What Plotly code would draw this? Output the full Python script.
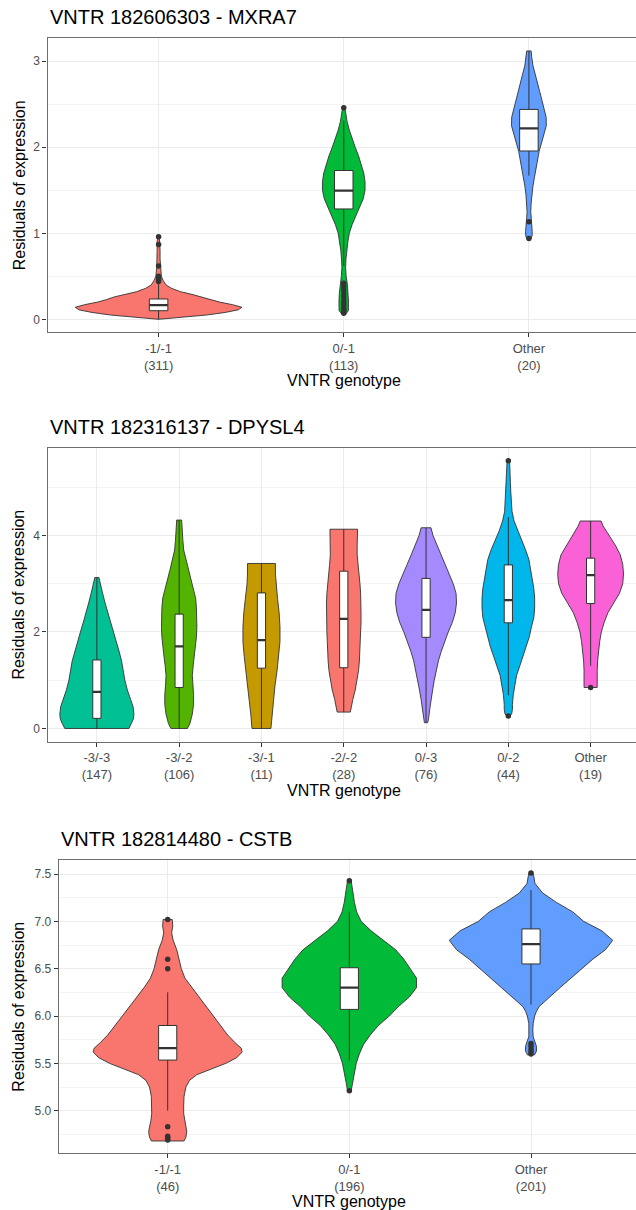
import numpy as np
import plotly.graph_objects as go

W, H = 636, 1210
FONT = "Liberation Sans, Arial, sans-serif"

# ---------------- Panel 1 : VNTR 182606303 - MXRA7 ----------------
P1_TITLE = "VNTR 182606303 - MXRA7"
P1_CATS = ["-1/-1", "0/-1", "Other"]
P1_N = [311, 113, 20]
P1_COLORS = ["#F8766D", "#00BA38", "#619CFF"]
P1_Q1 = [0.100, 1.283, 1.957]
P1_MED = [0.166, 1.495, 2.220]
P1_Q3 = [0.236, 1.730, 2.440]
P1_LOW = [0.0, 0.62, 1.67]
P1_HIGH = [0.42, 2.31, 3.12]
P1_OUT = [[0.44, 0.46, 0.48, 0.50, 0.62, 0.87, 0.96],
          [0.07, 0.09, 0.11, 0.13, 0.16, 0.19, 0.22, 0.26, 0.30, 0.34, 0.38, 0.42, 2.46],
          [0.94, 1.135]]
P1_VY = [[0.0, 0.02, 0.05, 0.08, 0.11, 0.14, 0.17, 0.20, 0.23, 0.26, 0.29, 0.32, 0.36, 0.40, 0.45, 0.50, 0.6, 0.7, 0.8, 0.9, 0.96],
         [0.06, 0.1, 0.2, 0.3, 0.4, 0.5, 0.6, 0.7, 0.8, 0.9, 1.0, 1.1, 1.2, 1.3, 1.4, 1.5, 1.6, 1.7, 1.8, 1.9, 2.0, 2.1, 2.2, 2.3, 2.4, 2.46],
         [0.94, 0.97, 1.02, 1.1, 1.18, 1.25, 1.35, 1.45, 1.55, 1.65, 1.75, 1.85, 1.95, 2.05, 2.15, 2.25, 2.35, 2.45, 2.55, 2.65, 2.75, 2.85, 2.95, 3.05, 3.12]]
P1_VW = [[0.0, 0.12, 0.26, 0.36, 0.43, 0.45, 0.40, 0.33, 0.28, 0.24, 0.18, 0.12, 0.07, 0.04, 0.025, 0.015, 0.01, 0.008, 0.008, 0.008, 0.004],
         [0.01, 0.025, 0.026, 0.024, 0.02, 0.013, 0.01, 0.012, 0.016, 0.022, 0.03, 0.045, 0.065, 0.085, 0.105, 0.115, 0.115, 0.108, 0.095, 0.08, 0.062, 0.045, 0.03, 0.018, 0.01, 0.006],
         [0.012, 0.017, 0.018, 0.016, 0.012, 0.01, 0.012, 0.016, 0.022, 0.03, 0.038, 0.046, 0.055, 0.068, 0.083, 0.094, 0.093, 0.083, 0.07, 0.058, 0.046, 0.034, 0.022, 0.015, 0.012]]

# ---------------- Panel 2 : VNTR 182316137 - DPYSL4 ----------------
P2_TITLE = "VNTR 182316137 - DPYSL4"
P2_CATS = ["-3/-3", "-3/-2", "-3/-1", "-2/-2", "0/-3", "0/-2", "Other"]
P2_N = [147, 106, 11, 28, 76, 44, 19]
P2_COLORS = ["#00C094", "#53B400", "#C49A00", "#F8766D", "#A58AFF", "#00B6EB", "#FB61D7"]
P2_Q1 = [0.21, 0.85, 1.25, 1.26, 1.89, 2.19, 2.59]
P2_MED = [0.76, 1.70, 1.83, 2.27, 2.46, 2.66, 3.18]
P2_Q3 = [1.42, 2.37, 2.81, 3.26, 3.11, 3.39, 3.53]
P2_LOW = [0.0, 0.0, 0.0, 0.34, 0.12, 0.69, 1.30]
P2_HIGH = [3.13, 4.32, 3.42, 4.13, 4.16, 4.38, 4.30]
P2_OUT = [[], [], [], [], [], [0.26, 5.55], [0.85]]
P2_VY = [[0.0, 0.1, 0.2, 0.3, 0.45, 0.6, 0.8, 1.0, 1.2, 1.4, 1.6, 1.8, 2.0, 2.2, 2.4, 2.6, 2.8, 3.0, 3.13],
         [0.0, 0.1, 0.3, 0.5, 0.7, 0.9, 1.1, 1.3, 1.5, 1.7, 1.9, 2.1, 2.3, 2.5, 2.7, 2.9, 3.1, 3.3, 3.5, 3.7, 3.9, 4.1, 4.32],
         [0.0, 0.3, 0.6, 0.9, 1.2, 1.5, 1.8, 2.1, 2.4, 2.7, 3.0, 3.2, 3.42],
         [0.34, 0.45, 0.6, 0.8, 1.0, 1.2, 1.4, 1.6, 1.8, 2.0, 2.2, 2.4, 2.6, 2.8, 3.0, 3.2, 3.4, 3.6, 3.8, 4.0, 4.13],
         [0.12, 0.2, 0.4, 0.6, 0.8, 1.0, 1.2, 1.4, 1.6, 1.8, 2.0, 2.2, 2.4, 2.6, 2.8, 3.0, 3.2, 3.4, 3.6, 3.8, 4.0, 4.16],
         [0.26, 0.3, 0.4, 0.5, 0.7, 0.9, 1.1, 1.3, 1.5, 1.7, 1.9, 2.1, 2.3, 2.5, 2.7, 2.9, 3.1, 3.3, 3.5, 3.7, 3.9, 4.1, 4.3, 4.5, 4.7, 4.9, 5.1, 5.3, 5.55],
         [0.85, 1.0, 1.2, 1.4, 1.6, 1.8, 2.0, 2.2, 2.4, 2.6, 2.8, 3.0, 3.2, 3.4, 3.6, 3.8, 4.0, 4.2, 4.3]]
P2_VW = [[0.39, 0.42, 0.445, 0.45, 0.44, 0.41, 0.37, 0.34, 0.32, 0.30, 0.27, 0.235, 0.2, 0.165, 0.13, 0.1, 0.07, 0.04, 0.025],
         [0.10, 0.13, 0.16, 0.175, 0.175, 0.165, 0.16, 0.17, 0.185, 0.2, 0.21, 0.215, 0.215, 0.21, 0.2, 0.17, 0.14, 0.11, 0.08, 0.055, 0.045, 0.035, 0.03],
         [0.115, 0.13, 0.145, 0.165, 0.19, 0.21, 0.225, 0.225, 0.215, 0.195, 0.175, 0.17, 0.17],
         [0.08, 0.09, 0.11, 0.14, 0.163, 0.18, 0.19, 0.197, 0.2, 0.205, 0.21, 0.21, 0.21, 0.205, 0.197, 0.185, 0.172, 0.163, 0.163, 0.167, 0.168],
         [0.02, 0.03, 0.045, 0.06, 0.08, 0.1, 0.125, 0.15, 0.185, 0.225, 0.27, 0.32, 0.355, 0.37, 0.365, 0.33, 0.28, 0.23, 0.18, 0.13, 0.085, 0.06],
         [0.02, 0.04, 0.05, 0.05, 0.06, 0.08, 0.1, 0.14, 0.18, 0.22, 0.255, 0.28, 0.31, 0.32, 0.32, 0.31, 0.29, 0.27, 0.25, 0.21, 0.16, 0.11, 0.07, 0.045, 0.035, 0.03, 0.025, 0.02, 0.015],
         [0.08, 0.077, 0.08, 0.085, 0.095, 0.11, 0.13, 0.165, 0.21, 0.28, 0.35, 0.39, 0.40, 0.39, 0.36, 0.3, 0.22, 0.15, 0.127]]

# ---------------- Panel 3 : VNTR 182814480 - CSTB ----------------
P3_TITLE = "VNTR 182814480 - CSTB"
P3_CATS = ["-1/-1", "0/-1", "Other"]
P3_N = [46, 196, 201]
P3_COLORS = ["#F8766D", "#00BA38", "#619CFF"]
P3_Q1 = [5.535, 6.07, 6.55]
P3_MED = [5.66, 6.30, 6.76]
P3_Q3 = [5.90, 6.51, 6.92]
P3_LOW = [5.0, 5.53, 6.12]
P3_HIGH = [6.25, 7.10, 7.33]
P3_OUT = [[4.69, 4.71, 4.73, 4.83, 6.50, 6.60, 7.02],
          [5.21, 7.43],
          [5.60, 5.62, 5.65, 5.68, 5.71, 7.51]]
P3_VY = [[4.68, 4.72, 4.78, 4.84, 4.9, 4.97, 5.05, 5.15, 5.25, 5.32, 5.38, 5.44, 5.5, 5.56, 5.62, 5.66, 5.72, 5.8, 5.9, 6.0, 6.1, 6.2, 6.3, 6.4, 6.5, 6.6, 6.7, 6.8, 6.88, 6.95, 7.02],
         [5.21, 5.3, 5.4, 5.5, 5.6, 5.7, 5.8, 5.9, 6.0, 6.1, 6.2, 6.3, 6.4, 6.5, 6.6, 6.7, 6.8, 6.9, 7.0, 7.1, 7.2, 7.3, 7.43],
         [5.59, 5.63, 5.68, 5.73, 5.78, 5.85, 5.92, 6.0, 6.05, 6.1, 6.2, 6.3, 6.4, 6.5, 6.6, 6.7, 6.8, 6.9, 7.0, 7.1, 7.2, 7.3, 7.4, 7.51]]
P3_VW = [[0.09, 0.1, 0.105, 0.1, 0.092, 0.088, 0.088, 0.09, 0.1, 0.12, 0.16, 0.24, 0.32, 0.38, 0.41, 0.405, 0.37, 0.33, 0.29, 0.25, 0.21, 0.17, 0.13, 0.095, 0.075, 0.062, 0.05, 0.03, 0.022, 0.028, 0.025],
         [0.01, 0.018, 0.026, 0.038, 0.055, 0.078, 0.115, 0.16, 0.22, 0.27, 0.33, 0.37, 0.37, 0.335, 0.3, 0.255, 0.19, 0.12, 0.065, 0.04, 0.028, 0.02, 0.01],
         [0.02, 0.03, 0.03, 0.022, 0.012, 0.01, 0.012, 0.02, 0.03, 0.045, 0.1, 0.16, 0.22, 0.28, 0.34, 0.41, 0.45, 0.39, 0.29, 0.23, 0.14, 0.064, 0.022, 0.012]]

X_TITLE = "VNTR genotype"
Y_TITLE = "Residuals of expression"

# ---------------- layout geometry (pixels) ----------------
PANELS = [
    dict(left=47.5, top=38.3, bottom=332.3, yr=[-0.151, 3.267], dtick=1, minor=0.5, fmt="d",
         title_y=17, xlab_y=380.7),
    dict(left=47.5, top=447.5, bottom=741.7, yr=[-0.274, 5.824], dtick=2, minor=1, fmt="d",
         title_y=427.3, xlab_y=790.0),
    dict(left=58.7, top=860.0, bottom=1153.3, yr=[4.55, 7.648], dtick=0.5, minor=0.25, fmt=".1f",
         title_y=839.3, xlab_y=1201.7),
]
VIRTUAL_RIGHT = 640.0
BOX_HALF = 0.05

def px(x):
    return x / W

def py(y):
    return 1 - y / H

fig = go.Figure()
annotations = []
DATA = [
    (P1_TITLE, P1_CATS, P1_N, P1_COLORS, P1_Q1, P1_MED, P1_Q3, P1_LOW, P1_HIGH, P1_OUT, P1_VY, P1_VW),
    (P2_TITLE, P2_CATS, P2_N, P2_COLORS, P2_Q1, P2_MED, P2_Q3, P2_LOW, P2_HIGH, P2_OUT, P2_VY, P2_VW),
    (P3_TITLE, P3_CATS, P3_N, P3_COLORS, P3_Q1, P3_MED, P3_Q3, P3_LOW, P3_HIGH, P3_OUT, P3_VY, P3_VW),
]
EDGE = "#333333"
for i, (pan, d) in enumerate(zip(PANELS, DATA)):
    title, cats, ns, cols, q1, med, q3, lo, hi, outs, vys, vws = d
    k = "" if i == 0 else str(i + 1)
    xa, ya = "x" + k, "y" + k
    ncat = len(cats)
    pos = [float(p) for p in range(1, ncat + 1)]
    # violins
    for j in range(ncat):
        vy = np.array(vys[j]); vw = np.array(vws[j])
        xs = np.concatenate([pos[j] + vw, (pos[j] - vw)[::-1], [pos[j] + vw[0]]])
        ys = np.concatenate([vy, vy[::-1], [vy[0]]])
        fig.add_trace(go.Scatter(x=xs, y=ys, mode="lines", fill="toself", fillcolor=cols[j],
                                 line=dict(color=EDGE, width=0.9), hoverinfo="skip",
                                 xaxis=xa, yaxis=ya, showlegend=False))
    # boxplots (drawn as scatter so they sit above the violins)
    for j in range(ncat):
        p = pos[j]
        fig.add_trace(go.Scatter(x=[p, p, None, p, p], y=[hi[j], q3[j], None, q1[j], lo[j]],
                                 mode="lines", line=dict(color=EDGE, width=1),
                                 xaxis=xa, yaxis=ya, showlegend=False, hoverinfo="skip"))
        fig.add_trace(go.Scatter(x=[p - BOX_HALF, p + BOX_HALF, p + BOX_HALF, p - BOX_HALF, p - BOX_HALF],
                                 y=[q1[j], q1[j], q3[j], q3[j], q1[j]], mode="lines",
                                 fill="toself", fillcolor="white", line=dict(color=EDGE, width=1),
                                 xaxis=xa, yaxis=ya, showlegend=False, hoverinfo="skip"))
        fig.add_trace(go.Scatter(x=[p - BOX_HALF, p + BOX_HALF], y=[med[j], med[j]], mode="lines",
                                 line=dict(color=EDGE, width=2.2), xaxis=xa, yaxis=ya,
                                 showlegend=False, hoverinfo="skip"))
        if outs[j]:
            fig.add_trace(go.Scatter(x=[p] * len(outs[j]), y=outs[j], mode="markers",
                                     marker=dict(color=EDGE, size=5.5), xaxis=xa, yaxis=ya,
                                     showlegend=False))
    # axes
    unit = (VIRTUAL_RIGHT - pan["left"]) / (ncat + 0.2)
    xr = [0.4, 0.4 + (W - pan["left"]) / unit]
    axis_common = dict(showline=True, linecolor="#6e6e6e", linewidth=1.2, ticks="outside",
                       ticklen=4, tickwidth=1, tickcolor=EDGE, zeroline=False,
                       gridcolor="#EBEBEB", gridwidth=1)
    fig.update_layout(**{
        ("xaxis" + k): dict(axis_common, domain=[px(pan["left"]), 1], range=xr, anchor=ya,
                            tickmode="array", tickvals=pos,
                            ticktext=[f"{c}<br>({n})" for c, n in zip(cats, ns)],
                            tickfont=dict(family=FONT, size=13, color="#4D4D4D"),
                            mirror=True, showgrid=True),
        ("yaxis" + k): dict(axis_common, domain=[py(pan["bottom"]), py(pan["top"])], range=pan["yr"],
                            anchor=xa, dtick=pan["dtick"], tick0=0, tickformat=pan["fmt"],
                            tickfont=dict(family=FONT, size=12, color="#4D4D4D"),
                            showgrid=True,
                            minor=dict(dtick=pan["minor"], showgrid=True, gridcolor="#F3F3F3",
                                       gridwidth=0.7, ticks="")),
    })
    cx = (pan["left"] + VIRTUAL_RIGHT) / 2
    cy = (pan["top"] + pan["bottom"]) / 2
    annotations += [
        dict(text=title, x=px(pan["left"]), y=py(pan["title_y"]), xref="paper", yref="paper",
             xanchor="left", yanchor="middle", showarrow=False,
             font=dict(family=FONT, size=20, color="black")),
        dict(text=X_TITLE, x=px(cx), y=py(pan["xlab_y"]), xref="paper", yref="paper",
             xanchor="center", yanchor="middle", showarrow=False,
             font=dict(family=FONT, size=16, color="black")),
        dict(text=Y_TITLE, x=px(19), y=py(cy), xref="paper", yref="paper", textangle=-90,
             xanchor="center", yanchor="middle", showarrow=False,
             font=dict(family=FONT, size=16, color="black")),
    ]

fig.update_layout(width=W, height=H, autosize=False, margin=dict(l=0, r=0, t=0, b=0, pad=0),
                  paper_bgcolor="white", plot_bgcolor="white", showlegend=False,
                  annotations=annotations, font=dict(family=FONT))
fig.write_html("out.html", config={"displayModeBar": False},
               post_script="document.body.style.margin='0px';document.body.style.overflow='hidden';")
